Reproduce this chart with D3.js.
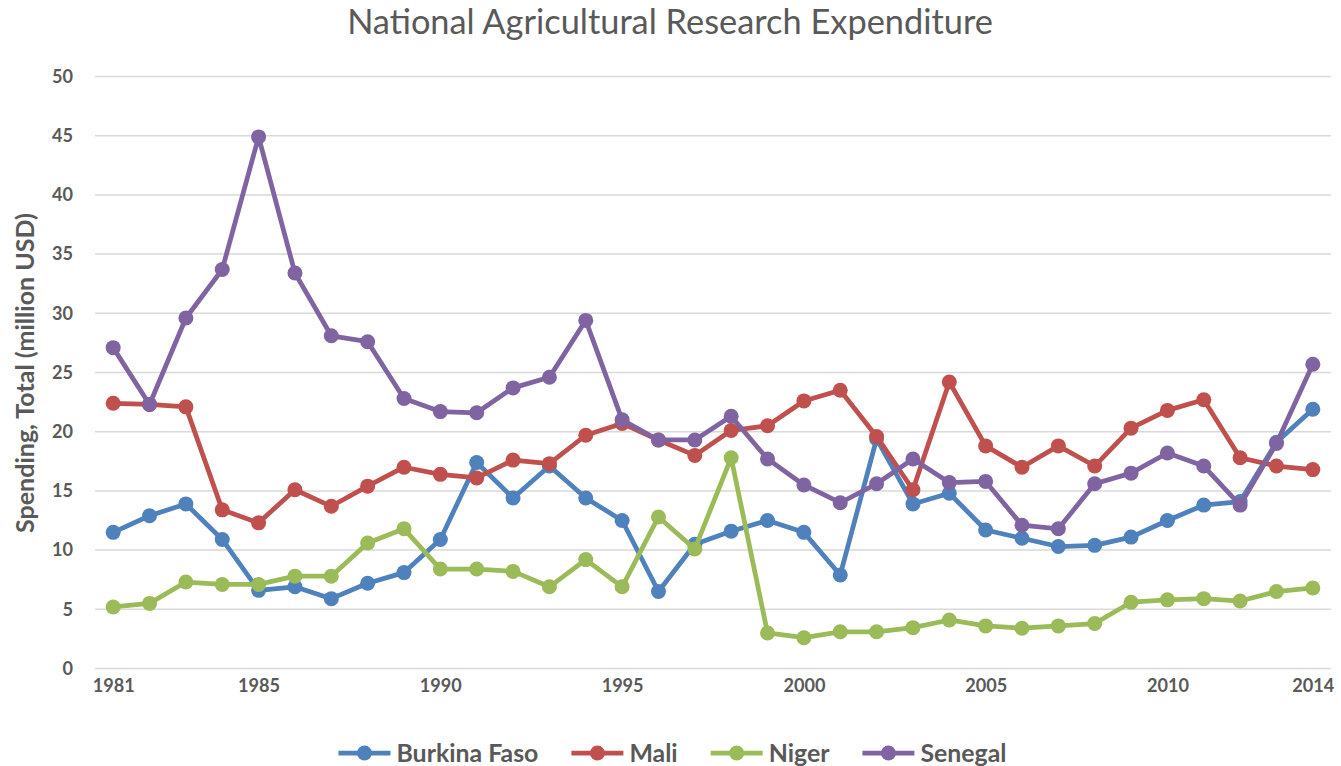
<!DOCTYPE html>
<html><head><meta charset="utf-8">
<script src="https://cdn.jsdelivr.net/npm/d3@7"></script>
<style>body{margin:0;background:#fff}svg{display:block}</style>
</head><body>
<script>
const years = d3.range(1981, 2015);
const tickYears = [1981, 1985, 1990, 1995, 2000, 2005, 2010, 2014];
const yTicks = [0,5,10,15,20,25,30,35,40,45,50];
const burkinaFaso = [11.5,12.9,13.9,10.9,6.6,6.9,5.9,7.2,8.1,10.9,17.4,14.4,17.1,14.4,12.5,6.5,10.5,11.6,12.5,11.5,7.9,19.4,13.9,14.8,11.7,11.0,10.3,10.4,11.1,12.5,13.8,14.1,19.1,21.9];
const mali = [22.4,22.3,22.1,13.4,12.3,15.1,13.7,15.4,17.0,16.4,16.1,17.6,17.3,19.7,20.7,19.3,18.0,20.1,20.5,22.6,23.5,19.6,15.1,24.2,18.8,17.0,18.8,17.1,20.3,21.8,22.7,17.8,17.1,16.8];
const niger = [5.2,5.5,7.3,7.1,7.1,7.8,7.8,10.6,11.8,8.4,8.4,8.2,6.9,9.2,6.9,12.8,10.1,17.8,3.0,2.6,3.1,3.1,3.45,4.1,3.6,3.4,3.6,3.8,5.6,5.8,5.9,5.7,6.5,6.8];
const senegal = [27.1,22.3,29.6,33.7,44.9,33.4,28.1,27.6,22.8,21.7,21.6,23.7,24.6,29.4,21.0,19.3,19.3,21.3,17.7,15.5,14.0,15.6,17.7,15.7,15.8,12.1,11.8,15.6,16.5,18.2,17.1,13.8,19.0,25.7];
const seriesNames = ["Burkina Faso","Mali","Niger","Senegal"];
const seriesValues = [burkinaFaso, mali, niger, senegal];
const colors = ["#4F81BD","#C0504D","#9BBB59","#8064A2"];

const W = 1341, H = 766;
const FONT = "Lato, 'Open Sans', sans-serif";
const txt = "#595959";
const svg = d3.select("body").append("svg").attr("width", W).attr("height", H);
const x = d3.scalePoint().domain(years).range([95, 1331]).padding(0.5);
const y = d3.scaleLinear().domain([0, 50]).range([668.5, 76.5]);

function fit(sel, target) {
  const fs = parseFloat(sel.attr("font-size"));
  const w = sel.node().getComputedTextLength();
  sel.attr("font-size", (fs * target / w).toFixed(2));
  return sel;
}

const title = svg.append("text").attr("x", 670).attr("y", 34).attr("text-anchor", "middle")
  .attr("font-family", FONT).attr("font-size", 28).attr("font-weight", 400)
  .attr("fill", txt).text("National Agricultural Research Expenditure");
fit(title, 646);

svg.append("g").selectAll("line").data(yTicks).join("line")
  .attr("x1", 95).attr("x2", 1331).attr("y1", d => y(d)).attr("y2", d => y(d))
  .attr("stroke", "#D9D9D9").attr("stroke-width", 1.5);

const probe = svg.append("text").attr("font-family", FONT).attr("font-weight", 700)
  .attr("font-size", 18).text("1981");
const tickFs = 18 * 42 / probe.node().getComputedTextLength();
probe.remove();

const yAxis = svg.append("g").attr("transform", "translate(73,0)")
  .call(d3.axisLeft(y).tickValues(yTicks).tickSize(0).tickPadding(0));
yAxis.select(".domain").remove();
yAxis.selectAll("text").attr("font-family", FONT).attr("font-size", tickFs)
  .attr("font-weight", 700).attr("fill", txt);

const xAxis = svg.append("g").attr("transform", "translate(0,668.5)")
  .call(d3.axisBottom(x).tickValues(tickYears).tickSize(0).tickPadding(11));
xAxis.select(".domain").remove();
xAxis.selectAll("text").attr("font-family", FONT).attr("font-size", tickFs)
  .attr("font-weight", 700).attr("fill", txt);

const yTitle = svg.append("text").attr("transform", "translate(34,373) rotate(-90)").attr("text-anchor", "middle")
  .attr("font-family", FONT).attr("font-size", 19).attr("font-weight", 700)
  .attr("fill", txt).text("Spending, Total (million USD)");
fit(yTitle, 320);

const line = d3.line().x((d, i) => x(years[i])).y(d => y(d));
seriesValues.forEach((vals, k) => {
  const g = svg.append("g");
  g.append("path").datum(vals).attr("d", line).attr("fill", "none")
    .attr("stroke", colors[k]).attr("stroke-width", 4.75).attr("stroke-linejoin", "round");
  g.selectAll("circle").data(vals).join("circle")
    .attr("cx", (d, i) => x(years[i])).attr("cy", d => y(d)).attr("r", 7.5).attr("fill", colors[k]);
});

const lg = svg.append("g");
const probe2 = svg.append("text").attr("font-family", FONT).attr("font-weight", 700)
  .attr("font-size", 20).text("Burkina Faso");
const legFs = 20 * 142 / probe2.node().getComputedTextLength();
probe2.remove();
const symW = 52, symGap = 6, itemGap = 33;
const items = seriesNames.map((n, k) => {
  const g = lg.append("g");
  g.append("line").attr("x1", 0).attr("x2", symW).attr("y1", 0).attr("y2", 0)
    .attr("stroke", colors[k]).attr("stroke-width", 4.75);
  g.append("circle").attr("cx", symW / 2).attr("cy", 0).attr("r", 7.5).attr("fill", colors[k]);
  const t = g.append("text").attr("x", symW + symGap).attr("y", 0).attr("dy", "0.35em")
    .attr("font-family", FONT).attr("font-size", legFs).attr("font-weight", 700)
    .attr("fill", txt).text(n);
  return { g, w: symW + symGap + t.node().getComputedTextLength() };
});
const total = d3.sum(items, d => d.w) + itemGap * (items.length - 1);
let cx = 672.5 - total / 2;
items.forEach(it => { it.g.attr("transform", `translate(${cx},753)`); cx += it.w + itemGap; });
</script>
</body></html>
